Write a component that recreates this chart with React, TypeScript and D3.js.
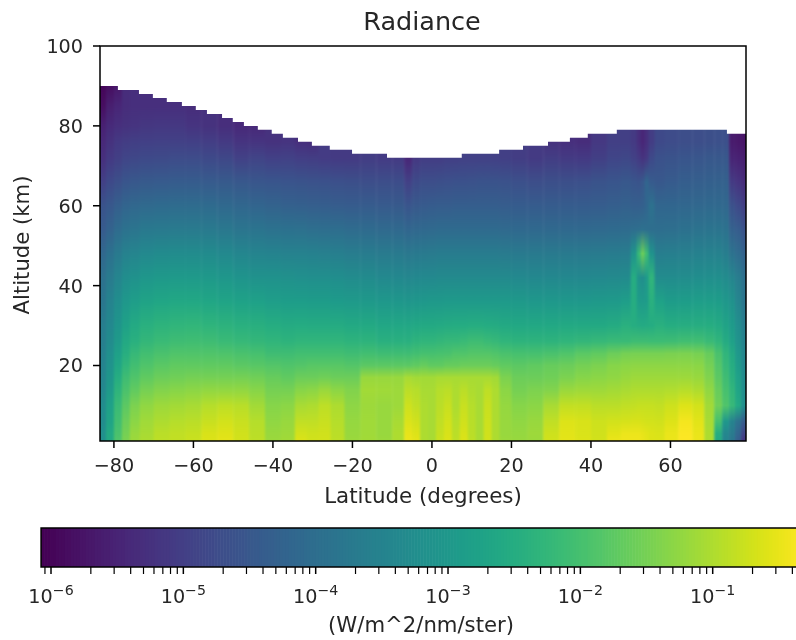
import React from 'react'
import * as d3 from 'd3'

const latTicks = [-80, -60, -40, -20, 0, 20, 40, 60]
const altTicks = [20, 40, 60, 80, 100]
const decades = [-6, -5, -4, -3, -2, -1]

// centre latitude of each retrieved column
const latitudes = [
  -83, -81, -79, -77, -75, -72, -68, -64, -60, -56,
  -52, -48, -44, -40, -36, -33, -30, -27, -24, -20,
  -16, -12, -8, -6, -4, -2, 0, 2, 4, 6,
  8, 10, 12, 14, 16, 18, 22, 26, 30, 34,
  38, 42, 46, 49, 51, 52, 53, 54, 55, 57,
  60, 64, 67, 70, 72, 74, 75.5, 77, 78.5
]

// top of the data, stepping with latitude
const topEdges = [-83.5, -79, -73.7, -70.2, -66.7, -62.9, -59.4, -56.6, -52.8, -50.1, -47.3, -43.8, -40.3, -37.5, -33.7, -30.2, -25.7, -20.1, -11.3, 7.5, 16.9, 22.9, 29.2, 34.7, 39.2, 46.5, 74.2, 79]
const topAltitudes = [90, 89, 88, 87, 86, 85, 84, 83, 82, 81, 80, 79, 78, 77, 76, 75, 74, 73, 72, 73, 74, 75, 76, 77, 78, 79, 78]

const altitudes = [1, 3, 6, 10, 14, 17, 20, 23, 26, 30, 36, 42, 48, 54, 60, 66, 72, 76, 80, 85, 90]

const none = (n: number) => Array(n).fill(null)

// log10 radiance, one row per altitude, one value per latitude
const logRadiance: (number | null)[][] = [
  [-3.2, -2.6, -1.9, -1.45, -1.15, -1.0, -0.88, -0.82, -0.76, -0.6, -0.53, -0.7, -0.88, -1.17, -1.1, -0.6, -0.7, -0.7, -0.88, -1.17, -1.1, -1.17, -1.0, -0.48, -0.53, -1.0, -1.05, -0.76, -0.6, -0.88, -0.6, -0.88, -1.05, -0.7, -1.0, -1.17, -1.2, -1.17, -0.7, -0.53, -0.6, -0.7, -0.48, -0.42, -0.42, -0.42, -0.48, -0.53, -0.6, -0.6, -0.48, -0.32, -0.48, -1.0, -2.6, -3.5, -3.8, -4.35, -5.2],
  [-3.2, -2.6, -1.95, -1.5, -1.2, -1.05, -0.9, -0.85, -0.8, -0.65, -0.58, -0.72, -0.9, -1.2, -1.15, -0.7, -0.75, -0.72, -0.9, -1.2, -1.12, -1.18, -1.0, -0.52, -0.6, -1.0, -1.05, -0.8, -0.65, -0.9, -0.65, -0.9, -1.05, -0.72, -1.0, -1.18, -1.22, -1.15, -0.75, -0.55, -0.62, -0.72, -0.55, -0.48, -0.48, -0.48, -0.52, -0.55, -0.6, -0.62, -0.5, -0.34, -0.5, -1.0, -2.5, -3.4, -3.7, -4.2, -4.9],
  [-3.3, -2.7, -2.05, -1.6, -1.3, -1.12, -1.0, -0.95, -0.9, -0.78, -0.7, -0.78, -0.95, -1.25, -1.2, -0.85, -0.85, -0.78, -0.95, -1.22, -1.12, -1.18, -1.05, -0.62, -0.72, -1.0, -1.05, -0.85, -0.7, -0.95, -0.72, -0.92, -1.05, -0.75, -1.0, -1.18, -1.25, -1.2, -0.85, -0.6, -0.65, -0.75, -0.7, -0.68, -0.66, -0.66, -0.68, -0.7, -0.7, -0.72, -0.6, -0.4, -0.55, -1.05, -2.0, -3.0, -3.5, -3.9, -4.4],
  [-3.3, -2.8, -2.15, -1.75, -1.45, -1.25, -1.15, -1.1, -1.05, -0.95, -0.88, -0.92, -1.1, -1.35, -1.3, -1.05, -1.0, -0.88, -1.0, -1.28, -1.15, -1.2, -1.15, -0.75, -0.85, -1.0, -1.05, -0.9, -0.78, -1.0, -0.78, -0.95, -1.05, -0.78, -1.0, -1.22, -1.35, -1.3, -1.05, -0.82, -0.82, -0.9, -0.9, -0.85, -0.82, -0.8, -0.8, -0.8, -0.8, -0.82, -0.75, -0.6, -0.7, -1.1, -1.55, -1.9, -2.2, -2.6, -3.2],
  [-3.4, -2.95, -2.35, -1.95, -1.7, -1.5, -1.4, -1.35, -1.3, -1.25, -1.25, -1.25, -1.35, -1.5, -1.5, -1.35, -1.3, -1.2, -1.3, -1.4, -1.1, -1.12, -1.15, -0.9, -0.95, -1.05, -1.05, -0.95, -0.9, -1.0, -0.9, -1.0, -1.05, -0.88, -1.0, -1.3, -1.5, -1.45, -1.4, -1.2, -1.15, -1.15, -1.1, -1.05, -1.0, -1.0, -1.0, -1.0, -1.0, -1.0, -0.98, -0.95, -1.0, -1.25, -1.65, -2.0, -2.3, -2.7, -3.25],
  [-3.45, -3.05, -2.5, -2.1, -1.9, -1.7, -1.6, -1.55, -1.5, -1.5, -1.5, -1.5, -1.55, -1.65, -1.7, -1.6, -1.6, -1.55, -1.6, -1.6, -1.2, -1.2, -1.2, -1.05, -1.1, -1.1, -1.1, -1.05, -1.05, -1.05, -1.05, -1.05, -1.05, -1.05, -1.1, -1.45, -1.6, -1.6, -1.55, -1.45, -1.35, -1.3, -1.25, -1.2, -1.15, -1.15, -1.15, -1.15, -1.15, -1.15, -1.15, -1.15, -1.2, -1.4, -1.75, -2.1, -2.4, -2.8, -3.3],
  [-3.5, -3.1, -2.65, -2.3, -2.05, -1.9, -1.78, -1.72, -1.7, -1.7, -1.72, -1.75, -1.8, -1.85, -1.9, -1.85, -1.8, -1.8, -1.8, -1.85, -1.75, -1.75, -1.75, -1.75, -1.7, -1.65, -1.7, -1.7, -1.65, -1.65, -1.6, -1.6, -1.6, -1.6, -1.65, -1.7, -1.75, -1.7, -1.65, -1.6, -1.5, -1.45, -1.35, -1.3, -1.28, -1.28, -1.28, -1.28, -1.28, -1.28, -1.28, -1.28, -1.3, -1.5, -1.85, -2.2, -2.5, -2.9, -3.35],
  [-3.55, -3.2, -2.8, -2.45, -2.2, -2.05, -1.95, -1.9, -1.88, -1.88, -1.92, -1.95, -2.0, -2.1, -2.1, -2.05, -2.05, -2.05, -2.05, -2.1, -2.05, -2.1, -2.1, -2.1, -2.05, -2.0, -2.0, -1.98, -1.95, -1.9, -1.88, -1.85, -1.85, -1.85, -1.9, -1.95, -2.0, -2.0, -1.95, -1.88, -1.78, -1.7, -1.6, -1.5, -1.48, -1.48, -1.48, -1.48, -1.48, -1.48, -1.46, -1.45, -1.48, -1.65, -1.95, -2.3, -2.6, -3.0, -3.4],
  [-3.6, -3.3, -2.95, -2.6, -2.4, -2.25, -2.15, -2.1, -2.08, -2.1, -2.15, -2.2, -2.25, -2.3, -2.35, -2.3, -2.3, -2.3, -2.3, -2.35, -2.35, -2.4, -2.4, -2.4, -2.35, -2.3, -2.3, -2.25, -2.2, -2.2, -2.15, -2.1, -2.1, -2.15, -2.2, -2.3, -2.35, -2.35, -2.35, -2.3, -2.25, -2.2, -2.15, -2.15, -2.1, -2.1, -2.1, -2.1, -2.12, -2.12, -2.1, -2.05, -2.05, -2.15, -2.3, -2.55, -2.8, -3.1, -3.5],
  [-3.62, -3.37, -3.07, -2.77, -2.57, -2.42, -2.34, -2.3, -2.28, -2.32, -2.37, -2.4, -2.44, -2.5, -2.54, -2.52, -2.54, -2.54, -2.54, -2.58, -2.6, -2.64, -2.64, -2.64, -2.62, -2.6, -2.58, -2.56, -2.54, -2.52, -2.52, -2.5, -2.5, -2.52, -2.54, -2.58, -2.62, -2.62, -2.62, -2.6, -2.6, -2.58, -2.54, -2.42, -2.5, -2.54, -2.56, -2.54, -2.52, -2.4, -2.5, -2.48, -2.47, -2.5, -2.57, -2.72, -2.92, -3.22, -3.6],
  [-3.8, -3.5, -3.25, -3.0, -2.85, -2.72, -2.65, -2.62, -2.62, -2.65, -2.7, -2.75, -2.8, -2.85, -2.88, -2.88, -2.9, -2.9, -2.92, -2.95, -2.98, -3.0, -3.02, -3.05, -3.02, -3.0, -2.98, -2.98, -2.95, -2.95, -2.95, -2.95, -2.95, -2.95, -2.95, -2.95, -2.98, -3.0, -3.0, -3.0, -3.0, -2.98, -2.95, -2.85, -2.5, -2.9, -2.95, -2.9, -2.4, -2.75, -2.9, -2.88, -2.86, -2.85, -2.88, -3.0, -3.15, -3.45, -3.8],
  [-3.95, -3.7, -3.45, -3.25, -3.12, -3.02, -2.98, -2.95, -2.95, -2.98, -3.02, -3.08, -3.12, -3.16, -3.18, -3.2, -3.22, -3.22, -3.24, -3.28, -3.32, -3.35, -3.38, -3.4, -3.38, -3.36, -3.35, -3.34, -3.34, -3.34, -3.34, -3.34, -3.34, -3.34, -3.34, -3.34, -3.36, -3.38, -3.38, -3.38, -3.38, -3.36, -3.34, -3.32, -2.5, -3.1, -3.25, -2.95, -2.3, -3.28, -3.28, -3.26, -3.24, -3.22, -3.22, -3.3, -3.45, -3.65, -3.95],
  [-4.15, -3.92, -3.72, -3.54, -3.44, -3.36, -3.32, -3.3, -3.3, -3.32, -3.36, -3.42, -3.47, -3.5, -3.52, -3.54, -3.57, -3.58, -3.6, -3.64, -3.68, -3.7, -3.72, -3.77, -3.74, -3.72, -3.7, -3.68, -3.68, -3.68, -3.68, -3.68, -3.68, -3.68, -3.68, -3.7, -3.72, -3.72, -3.72, -3.72, -3.72, -3.7, -3.68, -3.64, -3.1, -2.2, -1.6, -2.1, -3.1, -3.62, -3.6, -3.58, -3.56, -3.54, -3.54, -3.62, -3.9, -4.05, -4.25],
  [-4.45, -4.25, -4.05, -3.9, -3.82, -3.75, -3.72, -3.7, -3.7, -3.72, -3.76, -3.82, -3.86, -3.9, -3.92, -3.95, -3.98, -4.0, -4.02, -4.05, -4.08, -4.1, -4.12, -4.2, -4.15, -4.12, -4.1, -4.08, -4.08, -4.08, -4.08, -4.08, -4.08, -4.08, -4.08, -4.1, -4.12, -4.12, -4.12, -4.12, -4.12, -4.1, -4.08, -4.06, -4.02, -3.98, -3.95, -3.98, -4.02, -4.02, -3.98, -3.92, -3.88, -3.86, -3.85, -3.9, -4.3, -4.4, -4.6],
  [-4.6, -4.5, -4.35, -4.22, -4.15, -4.1, -4.08, -4.06, -4.06, -4.08, -4.12, -4.18, -4.22, -4.26, -4.3, -4.32, -4.36, -4.38, -4.4, -4.42, -4.42, -4.44, -4.46, -4.55, -4.48, -4.44, -4.42, -4.4, -4.4, -4.38, -4.38, -4.38, -4.38, -4.38, -4.38, -4.4, -4.42, -4.42, -4.42, -4.42, -4.42, -4.4, -4.36, -4.3, -4.36, -4.36, -4.32, -4.2, -3.95, -4.2, -4.2, -4.16, -4.14, -4.12, -4.12, -4.14, -4.65, -4.8, -5.0],
  [-4.98, -4.8, -4.68, -4.56, -4.5, -4.46, -4.44, -4.42, -4.42, -4.44, -4.46, -4.5, -4.52, -4.55, -4.58, -4.6, -4.62, -4.64, -4.66, -4.68, -4.7, -4.72, -4.74, -4.95, -4.78, -4.72, -4.7, -4.68, -4.66, -4.64, -4.64, -4.62, -4.6, -4.6, -4.6, -4.62, -4.66, -4.7, -4.68, -4.68, -4.66, -4.6, -4.55, -4.5, -4.55, -4.6, -4.5, -4.2, -4.45, -4.5, -4.45, -4.38, -4.34, -4.32, -4.3, -4.3, -5.1, -5.2, -5.35],
  [-5.3, -5.12, -5.0, -4.9, -4.84, -4.8, -4.78, -4.76, -4.76, -4.8, -4.85, -4.95, -4.92, -4.98, -4.95, -5.02, -5.05, -5.08, -5.1, -5.1, -5.05, -5.08, -5.1, -5.45, -5.15, -5.05, -5.05, -5.05, -5.0, -5.0, -4.95, -4.95, -4.95, -4.95, -4.98, -5.0, -5.05, -5.1, -5.05, -5.1, -5.12, -5.0, -4.9, -4.85, -4.95, -5.1, -5.25, -5.15, -4.8, -4.65, -4.6, -4.55, -4.52, -4.5, -4.5, -4.5, -5.5, -5.55, -5.6],
  [-5.4, -5.25, -5.12, -5.05, -5.0, -4.98, -4.96, -4.96, -4.98, -5.02, -5.1, -5.2, -5.2, -5.25, -5.2, -5.3, -5.35, ...none(21), -5.25, -5.3, -5.35, -5.15, -5.0, -5.0, -5.1, -5.3, -5.45, -5.3, -5.05, -4.8, -4.75, -4.72, -4.7, -4.68, -4.66, -4.66, -5.65, -5.7, -5.75],
  [-5.55, -5.38, -5.3, -5.25, -5.2, -5.17, -5.15, -5.15, -5.2, -5.25, -5.32, -5.4, -5.42, ...none(46)],
  [-5.85, -5.6, -5.45, -5.35, -5.3, -5.3, -5.3, -5.3, -5.35, ...none(50)],
  [-6.0, -5.85, -5.7, ...none(56)]
]

const width = 796
const height = 640
const font = 'DejaVu Sans, sans-serif'
const ink = '#000'
const textInk = '#262626'

const x = d3.scaleLinear().domain([-83.5, 79]).range([100, 746])
const y = d3.scaleLinear().domain([1.1, 100]).range([441, 46])
const cbar = d3.scaleLog().domain([1e-6, 1e-1]).range([51, 712.7])

const logMin = -6.075
const logMax = -0.3
const colour = d3.scaleSequential(d3.interpolateViridis).domain([logMin, logMax])

const cbarTop = 528
const cbarBottom = 567
const cbarLeft = cbar(Math.pow(10, logMin))
const cbarRight = cbar(Math.pow(10, logMax))
const cbarSteps = d3.range(0, 256).map(i => logMin + ((logMax - logMin) * i) / 256)

const minorTicks = [-7, ...decades]
  .flatMap(d => d3.range(2, 10).map(m => m * Math.pow(10, d)))
  .filter(v => cbar(v) >= cbarLeft && cbar(v) <= width)

const topShape = d3
  .area<number>()
  .x(d => x(d))
  .y0(y.range()[0])
  .y1((_, i) => y(topAltitudes[Math.min(i, topAltitudes.length - 1)]))
  .curve(d3.curveStepAfter)(topEdges) as string

const columnEdges = latitudes.map((lat, i) => [
  i === 0 ? x(lat) - 40 : (x(latitudes[i - 1]) + x(lat)) / 2,
  i === latitudes.length - 1 ? x(lat) + 40 : (x(lat) + x(latitudes[i + 1])) / 2
])

export default function App() {
  return (
    <svg
      width={width}
      height={height}
      style={{ position: 'fixed', left: 0, top: 0, display: 'block' }}
      fontFamily={font}
      fill={textInk}
    >
      <defs>
        {latitudes.map((_, c) => (
          <linearGradient
            key={c}
            id={`col${c}`}
            gradientUnits="userSpaceOnUse"
            x1={0}
            x2={0}
            y1={y(altitudes[0])}
            y2={y(altitudes[altitudes.length - 1])}
          >
            {altitudes.map((alt, r) => {
              const v = logRadiance[r][c]
              if (v === null) return null
              return (
                <stop
                  key={alt}
                  offset={(alt - altitudes[0]) / (altitudes[altitudes.length - 1] - altitudes[0])}
                  stopColor={colour(v)}
                />
              )
            })}
          </linearGradient>
        ))}
        <filter
          id="soften"
          filterUnits="userSpaceOnUse"
          x={40}
          y={30}
          width={width}
          height={430}
          colorInterpolationFilters="sRGB"
        >
          <feGaussianBlur stdDeviation="1.3 0" />
        </filter>
        <clipPath id="dataTop">
          <path d={topShape} />
        </clipPath>
        <clipPath id="plotArea">
          <rect x={100} y={46} width={646} height={395} />
        </clipPath>
      </defs>

      <text x={422} y={30} fontSize={25.5} textAnchor="middle">Radiance</text>

      <g clipPath="url(#plotArea)">
        <g clipPath="url(#dataTop)">
          <g filter="url(#soften)">
            {latitudes.map((lat, c) => (
              <rect
                key={lat}
                x={columnEdges[c][0]}
                y={y(92)}
                width={columnEdges[c][1] - columnEdges[c][0] + 0.5}
                height={y(1.1) - y(92)}
                fill={`url(#col${c})`}
              />
            ))}
          </g>
        </g>
      </g>
      <rect x={100} y={46} width={646} height={395} fill="none" stroke={ink} strokeWidth={1.5} />

      {latTicks.map(t => (
        <g key={t} transform={`translate(${x(t)},441)`}>
          <line y2={7} stroke={ink} strokeWidth={1.5} />
          <text y={31} fontSize={19.2} textAnchor="middle">
            {t < 0 ? `\u2212${-t}` : t}
          </text>
        </g>
      ))}
      {altTicks.map(t => (
        <g key={t} transform={`translate(100,${y(t)})`}>
          <line x2={-7} stroke={ink} strokeWidth={1.5} />
          <text x={-17} dy="0.36em" fontSize={19.2} textAnchor="end">{t}</text>
        </g>
      ))}
      <text x={423} y={503} fontSize={21.4} textAnchor="middle">Latitude (degrees)</text>
      <text
        transform="translate(29,245) rotate(-90)"
        fontSize={21.2}
        textAnchor="middle"
      >
        Altitude (km)
      </text>

      {cbarSteps.map(v => (
        <rect
          key={v}
          x={cbar(Math.pow(10, v))}
          y={cbarTop}
          width={(cbarRight - cbarLeft) / 256 + 0.6}
          height={cbarBottom - cbarTop}
          fill={colour(v)}
        />
      ))}
      <rect
        x={cbarLeft}
        y={cbarTop}
        width={cbarRight - cbarLeft + 20}
        height={cbarBottom - cbarTop}
        fill="none"
        stroke={ink}
        strokeWidth={1.5}
      />
      {minorTicks.map(v => (
        <line key={v} x1={cbar(v)} x2={cbar(v)} y1={cbarBottom} y2={cbarBottom + 7} stroke={ink} strokeWidth={1.2} />
      ))}
      {decades.map(d => (
        <g key={d} transform={`translate(${cbar(Math.pow(10, d))},${cbarBottom})`}>
          <line y2={7} stroke={ink} strokeWidth={1.5} />
          <text y={36} fontSize={19.2} textAnchor="middle">
            10
            <tspan dy={-8} fontSize={14.2}>{`\u2212${-d}`}</tspan>
          </text>
        </g>
      ))}
      <text x={421} y={632} fontSize={21.2} textAnchor="middle">(W/m^2/nm/ster)</text>
    </svg>
  )
}
